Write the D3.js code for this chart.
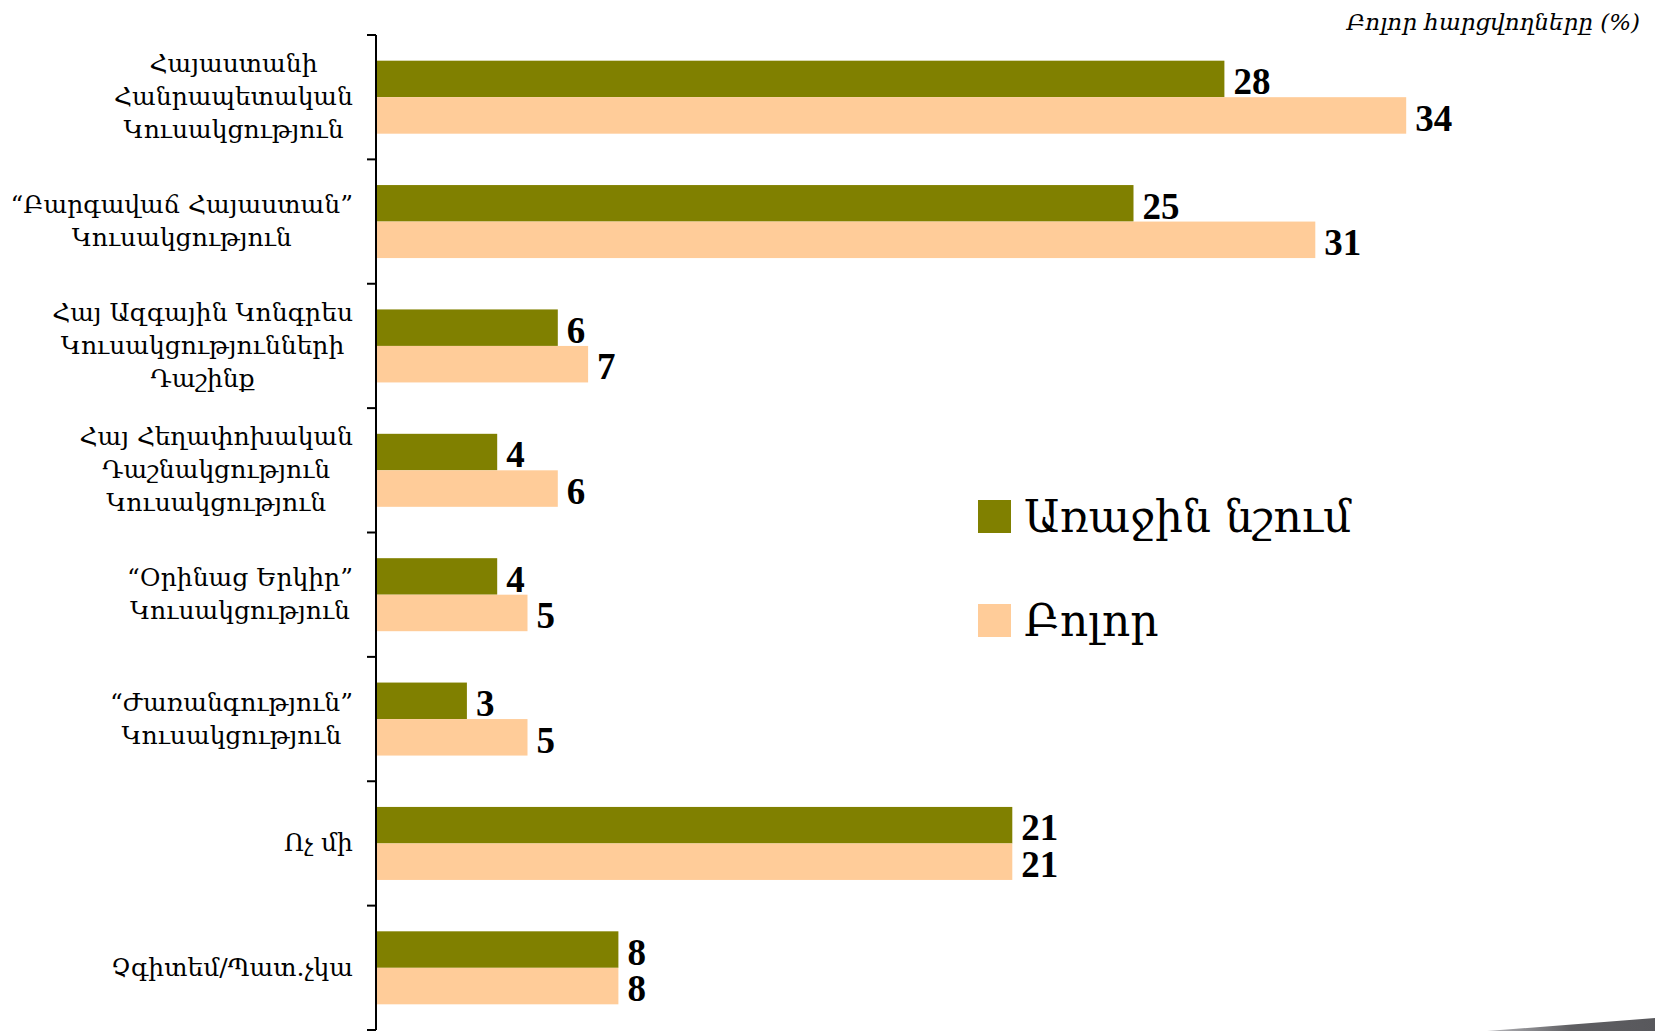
<!DOCTYPE html>
<html>
<head>
<meta charset="utf-8">
<script src="https://cdn.jsdelivr.net/npm/d3@7"></script>
<style>
  body { margin: 0; background: #fff; }
  svg { display: block; }
</style>
</head>
<body>
<div id="chart"></div>
<script>
"use strict";

// chart data
var categories = [
    ["Հայաստանի", "Հանրապետական", "Կուսակցություն"],
    ["“Բարգավաճ Հայաստան”", "Կուսակցություն"],
    ["Հայ Ազգային Կոնգրես", "Կուսակցությունների", "Դաշինք"],
    ["Հայ Հեղափոխական", "Դաշնակցություն", "Կուսակցություն"],
    ["“Օրինաց Երկիր”", "Կուսակցություն"],
    ["“Ժառանգություն”", "Կուսակցություն"],
    ["Ոչ մի"],
    ["Չգիտեմ/Պատ.չկա"]
];
var firstMention = [28, 25, 6, 4, 4, 3, 21, 8];
var allMentions = [34, 31, 7, 6, 5, 5, 21, 8];
var seriesNames = ["Առաջին նշում", "Բոլոր"];
var seriesColors = ["#808000", "#FFCC99"];
var subtitle = "Բոլոր հարցվողները (%)";

// svg parameters
var svgWidth = 1655;
var svgHeight = 1031;
var axisX = 376;
var labelRight = 353;
var lineGap = 33;

var svg = d3.select("#chart").append("svg")
    .attr("width", svgWidth).attr("height", svgHeight);

var ids = d3.range(categories.length);

var y = d3.scaleBand().domain(ids).range([35, 1030])
    .paddingInner(0.413).paddingOuter(0.2065);
var x = d3.scaleLinear().domain([0, 40]).range([axisX, axisX + 40 * 30.3]);
var step = y.step();
var barH = y.bandwidth() / 2;

// bars
var series = [firstMention, allMentions];
series.forEach(function (vals, s) {
    svg.append("g").selectAll("rect").data(vals).enter()
        .append("rect")
        .attr("x", x(0))
        .attr("y", function (d, i) { return y(i) + s * barH; })
        .attr("width", function (d) { return x(d) - x(0); })
        .attr("height", barH)
        .attr("fill", seriesColors[s]);

    svg.append("g").selectAll("text").data(vals).enter()
        .append("text")
        .attr("x", function (d) { return x(d) + 9; })
        .attr("y", function (d, i) { return y(i) + (s + 1) * barH - 3; })
        .attr("font-family", "'Liberation Serif', serif")
        .attr("font-weight", "bold")
        .attr("font-size", 37)
        .attr("fill", "#000")
        .text(function (d) { return d; });
});

// vertical axis with ticks at band boundaries
var axisTop = y.range()[0];
var axisBottom = y.range()[1];
svg.append("line")
    .attr("x1", axisX).attr("x2", axisX)
    .attr("y1", axisTop).attr("y2", axisBottom)
    .attr("stroke", "#000").attr("stroke-width", 2);
svg.append("g").selectAll("line").data(d3.range(categories.length + 1)).enter()
    .append("line")
    .attr("x1", axisX - 9).attr("x2", axisX)
    .attr("y1", function (i) { return axisTop + i * step; })
    .attr("y2", function (i) { return axisTop + i * step; })
    .attr("stroke", "#000").attr("stroke-width", 2);

// category labels, lines centred on each other, block right aligned
categories.forEach(function (lines, i) {
    var g = svg.append("g");
    var cy = y(i) + y.bandwidth() / 2;
    var texts = g.selectAll("text").data(lines).enter()
        .append("text")
        .attr("text-anchor", "middle")
        .attr("font-family", "'DejaVu Serif', serif")
        .attr("font-size", 25)
        .attr("fill", "#000")
        .attr("y", function (d, j) { return cy + (j - (lines.length - 1) / 2) * lineGap + 8; })
        .text(function (d) { return d; });
    var maxW = 0;
    texts.each(function () { maxW = Math.max(maxW, this.getComputedTextLength()); });
    texts.attr("x", labelRight - maxW / 2);
});

// subtitle in top right corner
svg.append("text")
    .attr("x", 1640).attr("y", 30)
    .attr("text-anchor", "end")
    .attr("font-family", "'DejaVu Serif', serif")
    .attr("font-style", "italic")
    .attr("font-size", 23)
    .attr("fill", "#000")
    .text(subtitle);

// legend
var legend = svg.append("g").selectAll("g").data(seriesNames).enter()
    .append("g")
    .attr("transform", function (d, i) { return "translate(978," + (500 + i * 104) + ")"; });
legend.append("rect")
    .attr("width", 33).attr("height", 33)
    .attr("fill", function (d, i) { return seriesColors[i]; });
legend.append("text")
    .attr("x", 46).attr("y", 32)
    .attr("font-family", "'DejaVu Serif', serif")
    .attr("font-size", 44)
    .attr("fill", "#000")
    .text(function (d) { return d; });

// grey wedge in bottom right corner
var grad = svg.append("defs").append("linearGradient")
    .attr("id", "wedge").attr("x1", "0").attr("x2", "1").attr("y1", "0").attr("y2", "0");
grad.append("stop").attr("offset", "0").attr("stop-color", "#b8b8bc");
grad.append("stop").attr("offset", "0.5").attr("stop-color", "#5e5e62");
grad.append("stop").attr("offset", "1").attr("stop-color", "#58585c");
svg.append("path")
    .attr("d", "M1487,1031 L1655,1018 L1655,1031 Z")
    .attr("fill", "url(#wedge)");
</script>
</body>
</html>
